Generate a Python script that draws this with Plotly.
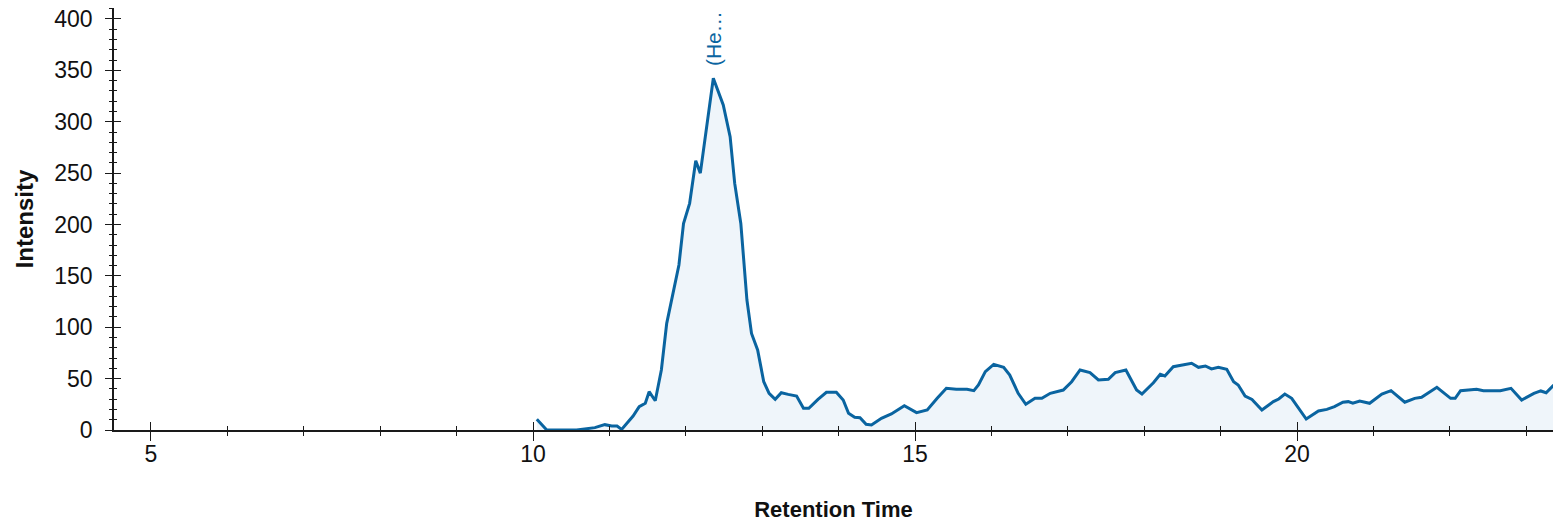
import plotly.graph_objects as go

# Retention time (min) and intensity
rt = [10.05, 10.18, 10.57, 10.72, 10.81, 10.94, 11.03, 11.10, 11.16, 11.31, 11.39, 11.47,
      11.52, 11.60, 11.68, 11.75, 11.83, 11.91, 11.97, 12.05, 12.13, 12.19, 12.36, 12.49,
      12.58, 12.64, 12.72, 12.80, 12.86, 12.94, 13.02, 13.09, 13.17, 13.25, 13.34, 13.45,
      13.54, 13.61, 13.73, 13.84, 13.97, 14.06, 14.13, 14.21, 14.28, 14.36, 14.43, 14.56,
      14.69, 14.86, 15.02, 15.16, 15.29, 15.41, 15.54, 15.68, 15.77, 15.83, 15.92, 16.03,
      16.16, 16.24, 16.35, 16.45, 16.57, 16.66, 16.77, 16.94, 17.05, 17.16, 17.29, 17.40,
      17.53, 17.62, 17.76, 17.84, 17.90, 17.97, 18.12, 18.21, 18.27, 18.38, 18.49, 18.62,
      18.71, 18.80, 18.88, 18.97, 19.08, 19.17, 19.23, 19.32, 19.41, 19.54, 19.69, 19.76,
      19.84, 19.93, 20.12, 20.28, 20.39, 20.49, 20.60, 20.67, 20.73, 20.82, 20.95, 21.11,
      21.23, 21.41, 21.54, 21.63, 21.83, 22.01, 22.07, 22.14, 22.35, 22.44, 22.66, 22.80,
      22.94, 23.10, 23.19, 23.26, 23.36]
intensity = [10.5, 0, 0, 1.6, 2.3, 5.2, 3.9, 3.9, 0.6, 13.6, 22.7, 26,
             37.3, 28.5, 58.4, 103.8, 133, 160.6, 201, 220.6, 262, 250, 342.3, 316.3,
             285.5, 240, 201, 126.5, 94, 77.9, 47, 35.7, 29.8, 36.3, 34.7, 33.1,
             21.1, 21.1, 29.8, 36.7, 36.7, 29.2, 16.2, 12.3, 12, 5.5, 4.9, 11.4,
             15.6, 23.7, 16.9, 19.5, 30.8, 40.6, 39.6, 39.6, 38.3, 43.8, 56.8, 63.9,
             61, 53.5, 35.7, 25, 30.8, 30.8, 35.7, 38.9, 47, 58.4, 55.8, 48.7,
             49.3, 55.8, 58.4, 47, 38.9, 35, 46, 54.2, 52.6, 61.6, 63.3, 64.9,
             61, 62.3, 59.4, 61, 59, 47, 43.8, 33.1, 29.8, 19.5, 27.6, 30.2,
             35, 30.8, 10.7, 18.5, 20.1, 22.7, 27, 27.6, 26, 28.2, 26, 35,
             38.3, 27, 30.8, 31.8, 41.6, 30.8, 30.8, 38.3, 39.6, 38.3, 38.3, 40.6,
             29.2, 35.7, 38, 36.3, 43.8]

peak_label = "(He…"
peak_rt = 12.36
peak_int = 342.3

x_range = [4.516, 23.35]
y_range = [0, 410.7]
x_tickvals = [5, 10, 15, 20]
y_tickvals = [0, 50, 100, 150, 200, 250, 300, 350, 400]

LINE = "#0a64a0"
FILL = "rgba(220,232,243,0.45)"
FONT = "Liberation Sans, Arial, sans-serif"
AX = "#1a1a1a"

fig = go.Figure()
fig.add_trace(go.Scatter(x=rt, y=intensity, mode="lines", fill="tozeroy",
                         fillcolor=FILL, line=dict(color=LINE, width=3),
                         hoverinfo="x+y", showlegend=False))
# empty trace to hold the overlay axes used for the inner half of the crossing ticks
fig.add_trace(go.Scatter(x=[], y=[], xaxis="x2", yaxis="y2", showlegend=False))

fig.add_annotation(x=peak_rt, y=peak_int, text=peak_label, textangle=-90,
                   showarrow=False, yanchor="bottom", xanchor="center", yshift=10,
                   font=dict(family=FONT, size=21, color=LINE))

common_x = dict(range=x_range, tickvals=x_tickvals, showgrid=False, zeroline=False,
                automargin=False)
common_y = dict(range=y_range, tickvals=y_tickvals, showgrid=False, zeroline=False,
                automargin=False)

fig.update_layout(
    width=1557, height=517,
    margin=dict(l=106, r=12, t=0, b=95),
    plot_bgcolor="white", paper_bgcolor="white",
    font=dict(family=FONT, color="#111"),
    xaxis=dict(**common_x, showline=True, linecolor=AX, linewidth=1.6,
               ticks="outside", ticklen=9, tickwidth=1.4, tickcolor=AX,
               minor=dict(dtick=1, ticks="outside", ticklen=4, tickwidth=1.3, tickcolor=AX),
               tickfont=dict(family=FONT, size=23, color="#111"),
               ticklabelstandoff=-6, ticklabeloverflow="allow",
               title=dict(text="<b>Retention Time</b>", standoff=35,
                          font=dict(family=FONT, size=22, color="#111"))),
    xaxis2=dict(**common_x, overlaying="x", anchor="y", side="bottom", showline=False,
                ticks="inside", ticklen=8, tickwidth=1.4, tickcolor=AX, showticklabels=False,
                minor=dict(dtick=1, ticks="inside", ticklen=4, tickwidth=1.3, tickcolor=AX)),
    yaxis=dict(**common_y, showline=True, linecolor=AX, linewidth=1.6,
               ticks="outside", ticklen=7, tickwidth=1.4, tickcolor=AX,
               minor=dict(dtick=10, ticks="outside", ticklen=3, tickwidth=1.3, tickcolor=AX),
               tickfont=dict(family=FONT, size=23, color="#111"),
               ticklabelstandoff=8, ticklabeloverflow="allow",
               title=dict(text="<b>Intensity</b>", standoff=14,
                          font=dict(family=FONT, size=24, color="#111"))),
    yaxis2=dict(**common_y, overlaying="y", anchor="x", side="left", showline=False,
                ticks="inside", ticklen=7, tickwidth=1.4, tickcolor=AX, showticklabels=False,
                minor=dict(dtick=10, ticks="inside", ticklen=3, tickwidth=1.3, tickcolor=AX)),
)

fig.write_html("out.html")
